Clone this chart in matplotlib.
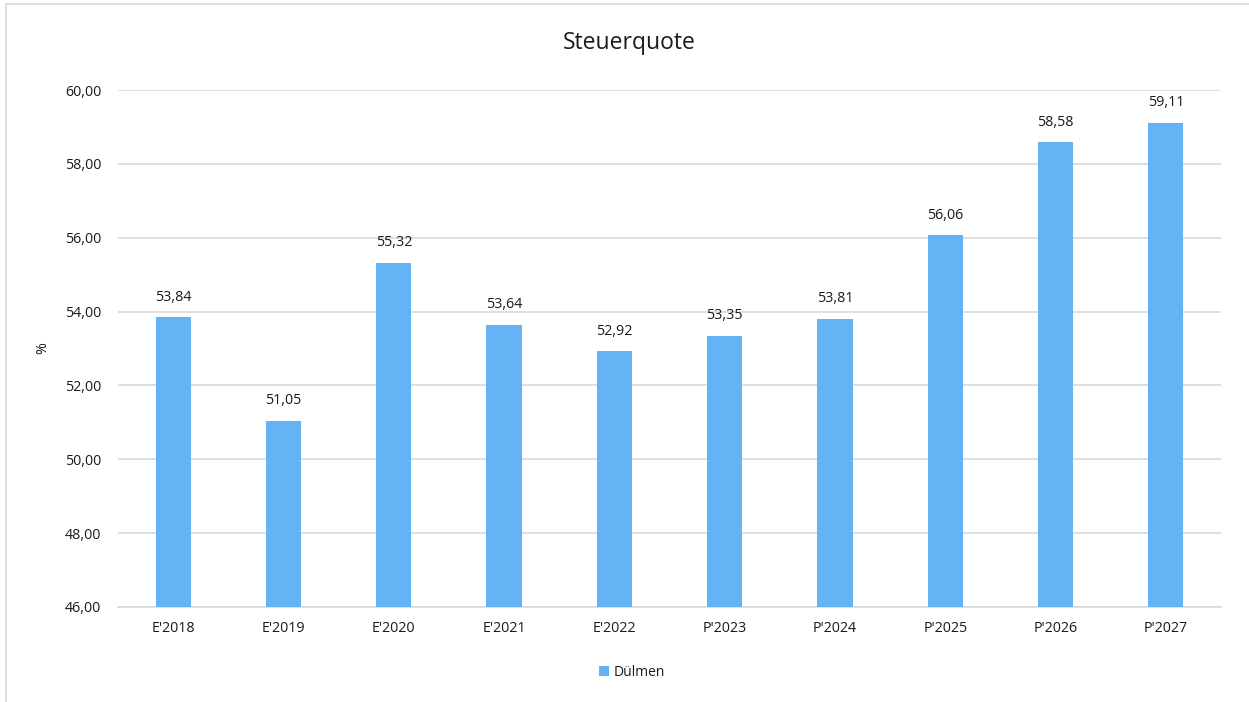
import matplotlib
matplotlib.use('Agg')
import matplotlib.pyplot as plt
from matplotlib.patches import Rectangle
from matplotlib.ticker import FuncFormatter

plt.rcParams['font.family'] = ['Open Sans', 'DejaVu Sans']

# data
jahre = ["E'2018", "E'2019", "E'2020", "E'2021", "E'2022",
         "P'2023", "P'2024", "P'2025", "P'2026", "P'2027"]
quote = [53.84, 51.05, 55.32, 53.64, 52.92, 53.35, 53.81, 56.06, 58.58, 59.11]

blau = '#63B3F5'
text_farbe = '#1a1a1a'

fig = plt.figure(figsize=(12.49, 7.02), dpi=100)
# light frame like the Excel chart area
fig.patches.append(Rectangle((6/1249, -0.1), 1.2, 1.1 - 4/702,
                             transform=fig.transFigure, fill=False,
                             edgecolor='#D9D9D9', linewidth=1.2))

ax = fig.add_axes([118/1249, 1 - 607/702, (1221 - 118)/1249, (607 - 90)/702])

x = range(len(jahre))
bars = ax.bar(x, quote, width=0.32, color=blau, label='Dülmen', zorder=3)

for xi, v in zip(x, quote):
    ax.text(xi, v + 0.34, f'{v:.2f}'.replace('.', ','), ha='center', va='bottom',
            fontsize=10.3, color=text_farbe)

ax.set_ylim(46, 60)
ax.set_xlim(-0.5, len(jahre) - 0.5)
ax.set_yticks(range(46, 61, 2))
ax.yaxis.set_major_formatter(FuncFormatter(lambda v, p: f'{v:.2f}'.replace('.', ',')))
ax.set_xticks(list(x))
ax.set_xticklabels(jahre)
ax.tick_params(axis='both', length=0, labelsize=10.3, colors=text_farbe)
ax.tick_params(axis='y', pad=12)
ax.tick_params(axis='x', pad=10)
ax.grid(axis='y', color='#D9D9D9', linewidth=1.2, zorder=0)
for s in ['top', 'right', 'left']:
    ax.spines[s].set_visible(False)
ax.spines['bottom'].set_color('#D9D9D9')
ax.spines['bottom'].set_linewidth(1.2)

ax.set_ylabel('%', fontsize=10.3, color=text_farbe)
ax.yaxis.set_label_coords((50 - 118)/1103, 0.5)
fig.text(629/1249, 1 - 43/702, 'Steuerquote', ha='center', va='center',
         fontsize=16.5, color=text_farbe)

fig.legend(handles=[bars], labels=['Dülmen'], loc='center',
           bbox_to_anchor=(632/1249, 1 - 672/702), frameon=False,
           fontsize=10, handlelength=0.7, handleheight=0.7, handletextpad=0.3,
           labelcolor=text_farbe)

fig.savefig('out.png', dpi=100)
